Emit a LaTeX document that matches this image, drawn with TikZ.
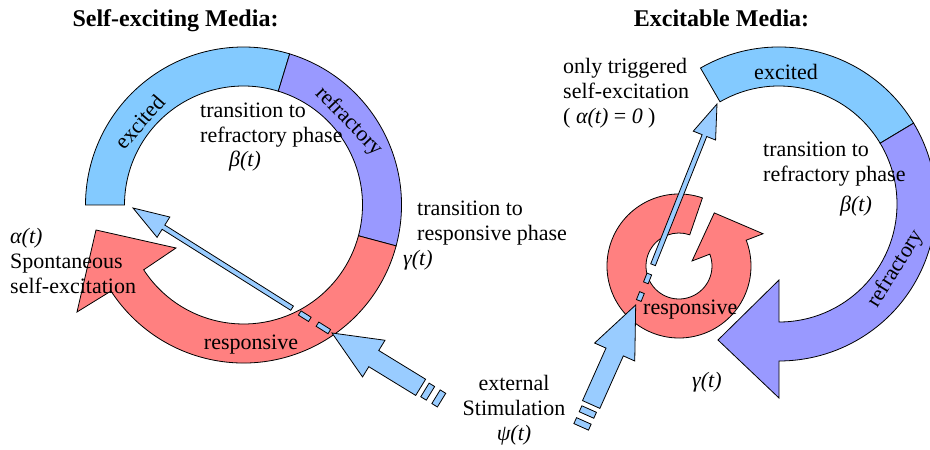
\documentclass[tikz,border=0pt]{standalone}
\usepackage{fontspec}
\setmainfont{Liberation Serif}
\definecolor{excol}{RGB}{131,202,255}
\definecolor{arcol}{RGB}{153,204,255}
\definecolor{refcol}{RGB}{153,153,255}
\definecolor{rescol}{RGB}{255,128,128}
\tikzset{
  band/.style={draw=black, line width=0.8pt, line join=miter},
  exband/.style={band, fill=excol},
  refband/.style={band, fill=refcol},
  resband/.style={band, fill=rescol},
  blockarr/.style={draw=black, line width=0.8pt, fill=arcol},
  lbl/.style={inner sep=0pt, font=\fontsize{22}{25}\selectfont},
  ttl/.style={inner sep=0pt, font=\fontsize{24}{28}\selectfont\bfseries},
}
\newcommand{\blockarrow}[6]{%
  \begin{scope}[shift={#1}, rotate=#2]
    \draw[blockarr] (0,0) -- (#5,#6) -- (#5,#4) -- (#3,#4) -- (#3,-#4) -- (#5,-#4) -- (#5,-#6) -- cycle;
  \end{scope}}
\newcommand{\arrowdash}[5]{%
  \begin{scope}[shift={#1}, rotate=#2]
    \draw[blockarr] (#3,-#5) rectangle (#4,#5);
  \end{scope}}
\begin{document}
\begin{tikzpicture}[x=1pt,y=1pt]
\useasboundingbox (0,0) rectangle (930,450);
\clip (0,0) rectangle (930,450);
\fill[white] (0,0) rectangle (930,450);

% ---------- left ring (self-exciting) ----------
\begin{scope}[shift={(243.5,245)}]
  \draw[exband] (180:158) arc[start angle=180, end angle=73, radius=158]
     -- (73:119) arc[start angle=73, end angle=180, radius=119] -- cycle;
  \draw[refband] (73:158) arc[start angle=73, end angle=-15, radius=158]
     -- (-15:119) arc[start angle=-15, end angle=73, radius=119] -- cycle;
  \draw[resband] (213:119) arc[start angle=213, end angle=345, radius=119]
     -- (345:158) arc[start angle=345, end angle=213, radius=158]
     -- (-166.5,-107) -- (-147.5,-25) -- (-67.5,-43) -- cycle;
\end{scope}

% ---------- right ring (excitable) ----------
\begin{scope}[shift={(779,246)}]
  \draw[exband] (120:157) arc[start angle=120, end angle=31, radius=157]
     -- (31:118) arc[start angle=31, end angle=120, radius=118] -- cycle;
  \draw[refband] (31:157) arc[start angle=31, end angle=-90, radius=157]
     -- (0,-194) -- (-61,-136) -- (0,-76)
     -- (-90:118) arc[start angle=-90, end angle=31, radius=118] -- cycle;
\end{scope}
\begin{scope}[shift={(679,184)}]
  \draw[resband] (71:72) arc[start angle=71, end angle=381, radius=72]
     -- (21:90) -- (35.3,53.1) -- (21:14)
     -- (21:33) arc[start angle=381, end angle=71, radius=33] -- cycle;
\end{scope}

% ---------- block arrows ----------
\blockarrow{(133,242)}{-32.2}{188}{2.5}{36}{12}
\arrowdash{(133,242)}{-32.2}{197}{209}{2.5}
\arrowdash{(133,242)}{-32.2}{218}{232}{2.5}

\blockarrow{(332,117)}{-31.5}{104}{9.5}{49}{21.5}
\arrowdash{(332,117)}{-31.5}{109}{115.5}{8}
\arrowdash{(332,117)}{-31.5}{122}{128.5}{8}

\blockarrow{(717,346)}{248.3}{173}{2.5}{34}{12}
\arrowdash{(717,346)}{248.3}{183}{192.5}{2.5}
\arrowdash{(717,346)}{248.3}{203}{211.5}{2.5}

\blockarrow{(635.7,145)}{245.9}{109}{9.5}{51.5}{22}
\arrowdash{(635.7,145)}{245.9}{114}{120.5}{8}
\arrowdash{(635.7,145)}{245.9}{127}{133.5}{8}

% ---------- texts ----------
\node[ttl, anchor=base] (t1) at (175.5,423) {Self-exciting Media:};
\node[ttl, anchor=base] (t2) at (721.5,423) {Excitable Media:};

\node[lbl, rotate=49] (lex) at (140,328) {excited};
\node[lbl, rotate=-46] (lref) at (348.5,328.5) {refractory};
\node[lbl, anchor=base] (lres) at (251,100) {responsive};
\node[lbl, anchor=north west, align=left] (ltr) at (200,347) {transition to\\refractory phase};
\node[lbl, anchor=base west] (lbeta) at (229,283) {\textit{β(t)}};
\node[lbl, anchor=north west, align=left] (ltrr) at (417,249) {transition to\\responsive phase};
\node[lbl, anchor=base west] (lgam) at (403,184) {\textit{γ(t)}};
\node[lbl, anchor=north west, align=left] (lalp) at (10,222) {\textit{α(t)}\\Spontaneous\\self-excitation};

\node[lbl, anchor=base] (rex) at (786,370) {excited};
\node[lbl, rotate=58] (rref) at (896,181) {refractory};
\node[lbl, anchor=base west] (rres) at (643,135) {responsive};
\node[lbl, anchor=north west, align=left] (rtrig) at (563,392) {only triggered\\self-excitation\\( \textit{α(t)} = \textit{0} )};
\node[lbl, anchor=north west, align=left] (rtr) at (763,308) {transition to\\refractory phase};
\node[lbl, anchor=base west] (rbeta) at (840,238) {\textit{β(t)}};
\node[lbl, anchor=base west] (rgam) at (692,62) {\textit{γ(t)}};
\node[lbl, anchor=north, align=center] (rext) at (514,75) {external\\Stimulation\\\textit{ψ(t)}};
\end{tikzpicture}
\end{document}
